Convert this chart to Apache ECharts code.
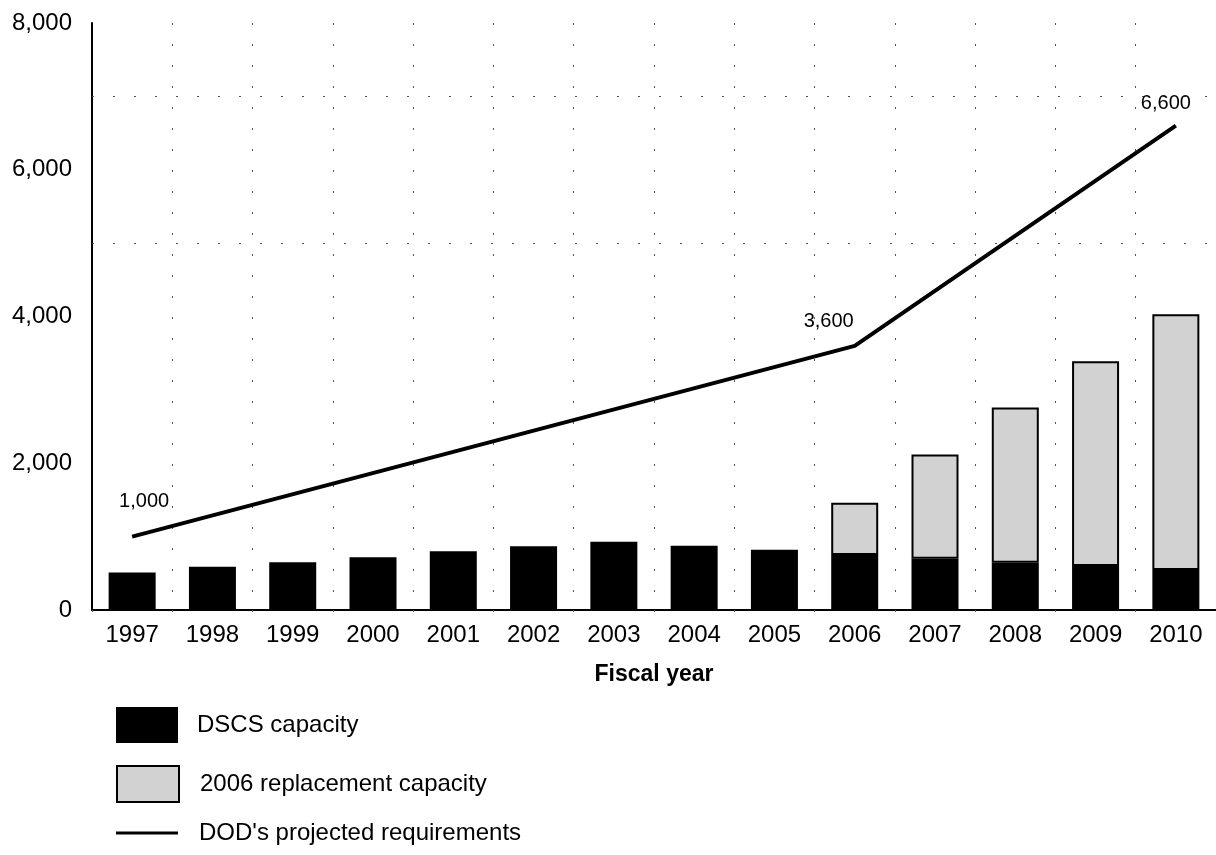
<!DOCTYPE html>
<html>
<head>
<meta charset="utf-8">
<script src="https://cdn.jsdelivr.net/npm/echarts@6/dist/echarts.min.js"></script>
<style>html,body{margin:0;padding:0;background:#fff;}#chart{width:1216px;height:855px;}</style>
</head>
<body>
<div id="chart"></div>
<script>
const years = ['1997','1998','1999','2000','2001','2002','2003','2004','2005','2006','2007','2008','2009','2010'];
const dscsCapacity = [510, 590, 650, 720, 800, 870, 930, 875, 820, 750, 700, 645, 600, 545];
const replacementCapacity = [null, null, null, null, null, null, null, null, null, 710, 1420, 2115, 2790, 3485];
const projectedRequirements = [1000, null, null, null, null, null, null, null, null, 3600, null, null, null, 6600];
const yTicks = [0, 2000, 4000, 6000, 8000];
const gridValues = [5000, 7000];

const FONT = '"Liberation Sans", Arial, Helvetica, sans-serif';
const labelOffsets = { '1997': [12, -20], '2006': [-26, -9], '2010': [-10, -7] };

const lineData = projectedRequirements.map((v, i) => {
  if (v == null) return null;
  return {
    value: v,
    label: {
      show: true, position: 'top', color: '#000', fontSize: 20, fontFamily: FONT,
      offset: labelOffsets[years[i]] || [0, 0],
      formatter: p => p.value.toLocaleString('en-US')
    }
  };
});

const dotted = { color: '#555', width: 1, type: [2, 19] };
const legendText = pad => ({ fontSize: 24, color: '#000', fontFamily: FONT, padding: [3, 0, 0, pad] });

const chart = echarts.init(document.getElementById('chart'), null, { renderer: 'canvas' });
chart.setOption({
  animation: false,
  backgroundColor: '#fff',
  textStyle: { fontFamily: FONT, color: '#000' },
  grid: { left: 92, right: 0, top: 23, bottom: 245, containLabel: false },
  xAxis: {
    type: 'category',
    data: years,
    boundaryGap: true,
    axisLine: { show: true, lineStyle: { color: '#000', width: 2 } },
    axisTick: { show: true, alignWithLabel: false, length: 10, lineStyle: dotted },
    axisLabel: { color: '#000', fontSize: 24, fontFamily: FONT, margin: 13, interval: 0 },
    splitLine: { show: true, lineStyle: dotted },
    name: 'Fiscal year',
    nameLocation: 'middle',
    nameGap: 53,
    nameTextStyle: { color: '#000', fontSize: 23, fontWeight: 'bold', fontFamily: FONT, verticalAlign: 'top' }
  },
  yAxis: {
    type: 'value',
    min: 0, max: 8000, interval: 1000,
    axisLine: { show: true, lineStyle: { color: '#000', width: 2 } },
    axisTick: { show: false },
    splitLine: { show: false },
    axisLabel: {
      color: '#000', fontSize: 24, fontFamily: FONT, margin: 20,
      formatter: v => yTicks.includes(v) ? v.toLocaleString('en-US') : ''
    }
  },
  legend: [
    {
      data: ['DSCS capacity'], left: 116, top: 707, orient: 'vertical', padding: 0,
      itemWidth: 62, itemHeight: 36, icon: 'rect', textStyle: legendText(14)
    },
    {
      data: ['2006 replacement capacity'], left: 116, top: 765, orient: 'vertical', padding: 0,
      itemWidth: 62, itemHeight: 36, icon: 'rect', textStyle: legendText(16)
    },
    {
      data: [{ name: "DOD's projected requirements", icon: 'rect', itemStyle: { color: '#000' } }],
      left: 116, top: 821, orient: 'vertical', padding: 0,
      itemWidth: 62, itemHeight: 3, textStyle: legendText(16)
    }
  ],
  series: [
    {
      name: 'DSCS capacity', type: 'bar', stack: 'cap', barWidth: 47,
      data: dscsCapacity,
      itemStyle: { color: '#000' }
    },
    {
      name: '2006 replacement capacity', type: 'bar', stack: 'cap', barWidth: 47,
      data: replacementCapacity,
      itemStyle: { color: '#d2d2d2', borderColor: '#000', borderWidth: 2 }
    },
    {
      name: "DOD's projected requirements", type: 'line',
      data: lineData, connectNulls: true,
      symbol: 'circle', symbolSize: 0.1, showSymbol: true,
      lineStyle: { color: '#000', width: 4 },
      itemStyle: { color: '#000' },
      label: { show: false, color: '#000', fontSize: 20, fontFamily: FONT },
      z: 5,
      markLine: {
        silent: true, symbol: 'none', label: { show: false },
        lineStyle: dotted,
        data: gridValues.map(v => ({ yAxis: v }))
      }
    }
  ]
});
</script>
</body>
</html>
